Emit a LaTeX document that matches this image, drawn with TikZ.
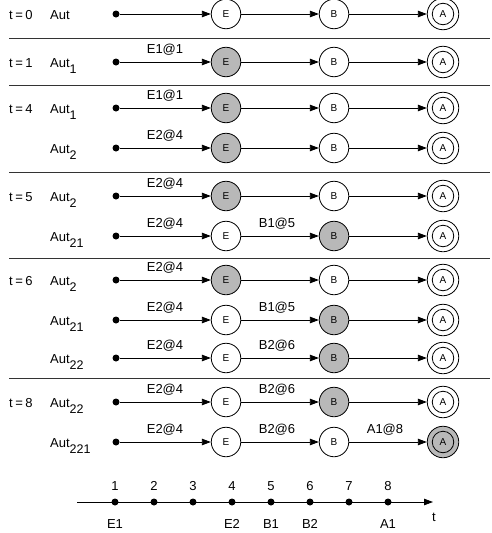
\documentclass[tikz,border=0pt]{standalone}
\usepackage{fontspec}
\setmainfont{Liberation Sans}
\usetikzlibrary{arrows.meta}
\tikzset{
  lbl/.style={font=\fontsize{13}{15}\selectfont, inner sep=0pt, anchor=base west},
  elbl/.style={font=\fontsize{13}{15}\selectfont, inner sep=0pt, anchor=base},
  st/.style={circle, draw, line width=0.8pt, minimum size=29.5pt, inner sep=0pt, font=\fontsize{10}{11}\selectfont, fill=white},
  act/.style={fill=black!28},
  acc/.style={minimum size=31.5pt},
  accin/.style={circle, draw, line width=0.8pt, minimum size=21.5pt, inner sep=0pt, font=\fontsize{10}{11}\selectfont},
  startdot/.style={circle, fill=black, inner sep=0pt, minimum size=7pt},
  edge/.style={line width=0.8pt, -{Triangle[length=9pt,width=6.5pt]}},
  sep/.style={line width=0.9pt, black!80},
}
\newcommand{\Sb}[1]{\raisebox{-6.5pt}{\fontsize{12.5}{13}\selectfont #1}}
\newcommand{\tl}[1]{t\hspace{2.5pt}=\hspace{2.5pt}#1}
\begin{document}
\begin{tikzpicture}[x=1pt,y=-1pt]
\useasboundingbox (0,0) rectangle (491,533);
% separators
\foreach \yy [count=\k] in {38,85,172,258,378}{
  \draw[sep] (9,\yy) coordinate (sl\k) -- (490,\yy) coordinate (sr\k);
}
% rows: id, y, E fill, B fill, A fill, labels
\newcommand{\automrow}[8]{%
  \node[startdot] (#1d) at (116,#2) {};
  \node[st,#3] (#1e) at (226,#2) {E};
  \node[st,#4] (#1b) at (334,#2) {B};
  \node[st,acc,#5] (#1a) at (443,#2) {};
  \node[accin] (#1ai) at (443,#2) {A};
  \draw[edge] (#1d) -- (#1e);
  \draw[edge] (#1e) -- (#1b);
  \draw[edge] (#1b) -- (#1a);
  \node[elbl] (#1le) at (165,#2-9) {#6};
  \node[elbl] (#1lb) at (277,#2-9) {#7};
  \node[elbl] (#1la) at (385,#2-9) {#8};
}
\automrow{r0}{14}{}{}{}{}{}{}
\automrow{r1}{62}{act}{}{}{E1@1}{}{}
\automrow{r2}{108}{act}{}{}{E1@1}{}{}
\automrow{r3}{148}{act}{}{}{E2@4}{}{}
\automrow{r4}{196}{act}{}{}{E2@4}{}{}
\automrow{r5}{236}{}{act}{}{E2@4}{B1@5}{}
\automrow{r6}{280}{act}{}{}{E2@4}{}{}
\automrow{r7}{320}{}{act}{}{E2@4}{B1@5}{}
\automrow{r8}{358}{}{act}{}{E2@4}{B2@6}{}
\automrow{r9}{402}{}{act}{}{E2@4}{B2@6}{}
\automrow{r10}{442}{}{}{act}{E2@4}{B2@6}{A1@8}
% time labels
\node[lbl] (t0) at (9,19) {\tl{0}};
\node[lbl] (t1) at (9,67) {\tl{1}};
\node[lbl] (t4) at (9,113) {\tl{4}};
\node[lbl] (t5) at (9,201) {\tl{5}};
\node[lbl] (t6) at (9,285) {\tl{6}};
\node[lbl] (t8) at (9,407) {\tl{8}};
% automaton names
\node[lbl] (n0) at (50,19) {Aut};
\node[lbl] (n1) at (50,67) {Aut\Sb{1}};
\node[lbl] (n2) at (50,113) {Aut\Sb{1}};
\node[lbl] (n3) at (50,153) {Aut\Sb{2}};
\node[lbl] (n4) at (50,201) {Aut\Sb{2}};
\node[lbl] (n5) at (50,241) {Aut\Sb{21}};
\node[lbl] (n6) at (50,285) {Aut\Sb{2}};
\node[lbl] (n7) at (50,325) {Aut\Sb{21}};
\node[lbl] (n8) at (50,363) {Aut\Sb{22}};
\node[lbl] (n9) at (50,407) {Aut\Sb{22}};
\node[lbl] (n10) at (50,447) {Aut\Sb{221}};
% timeline
\coordinate (tl0) at (77,502);
\coordinate (tl1) at (433,502);
\draw[edge] (tl0) -- (tl1);
\foreach \i/\lab in {1/E1,2/,3/,4/E2,5/B1,6/B2,7/,8/A1}{
  \node[startdot] (tp\i) at ({115+39*(\i-1)},502) {};
  \node[elbl] (tn\i) at ({115+39*(\i-1)},490) {\i};
  \node[elbl] (tl\i) at ({115+39*(\i-1)},528) {\lab};
}
\node[elbl] (tt) at (434,521) {t};
\end{tikzpicture}
\end{document}
